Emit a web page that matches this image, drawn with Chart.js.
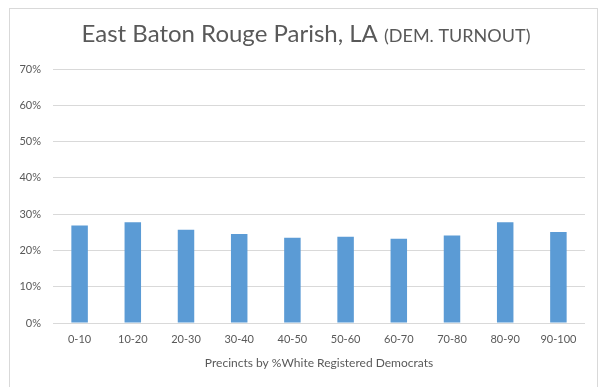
<!DOCTYPE html>
<html>
<head>
<meta charset="utf-8">
<script src="https://cdn.jsdelivr.net/npm/chart.js@4"></script>
<style>
html,body{margin:0;padding:0;background:#fff;}
#wrap{width:601px;height:387px;position:relative;}
</style>
</head>
<body>
<div id="wrap"><canvas id="c" width="601" height="387"></canvas></div>
<script>
const categories = ['0-10','10-20','20-30','30-40','40-50','50-60','60-70','70-80','80-90','90-100'];
const turnout = [0.269, 0.278, 0.257, 0.245, 0.235, 0.238, 0.232, 0.241, 0.278, 0.251];
const yTickValues = [0, 0.1, 0.2, 0.3, 0.4, 0.5, 0.6, 0.7];
const titleMain = 'East Baton Rouge Parish, LA';
const titleSub = '(DEM. TURNOUT)';
const xAxisTitle = 'Precincts by %White Registered Democrats';

const FONT = 'Lato, "Open Sans", sans-serif';
const GREY = '#595959';

const frameAndTitle = {
  id: 'frameAndTitle',
  beforeDraw(chart) {
    const ctx = chart.ctx;
    ctx.save();
    ctx.fillStyle = '#fff';
    ctx.fillRect(0, 0, chart.width, chart.height);
    ctx.strokeStyle = '#D9D9D9';
    ctx.lineWidth = 1;
    ctx.strokeRect(9.5, 8.5, 588, 420);
    ctx.restore();
  },
  afterDraw(chart) {
    const ctx = chart.ctx;
    const ca = chart.chartArea;
    ctx.save();
    ctx.fillStyle = GREY;
    ctx.textBaseline = 'alphabetic';
    ctx.font = '24px ' + FONT;
    const w1 = ctx.measureText(titleMain + ' ').width;
    ctx.font = '18px ' + FONT;
    const w2 = ctx.measureText(titleSub).width;
    const x0 = 306 - (w1 + w2) / 2;
    ctx.font = '24px ' + FONT;
    ctx.fillText(titleMain + ' ', x0, 42);
    ctx.font = '18px ' + FONT;
    ctx.fillText(titleSub, x0 + w1, 42);
    // x axis title
    ctx.font = '12px ' + FONT;
    ctx.textAlign = 'center';
    ctx.fillText(xAxisTitle, (ca.left + ca.right) / 2, 367);
    ctx.restore();
  }
};

new Chart(document.getElementById('c'), {
  type: 'bar',
  data: {
    labels: categories,
    datasets: [{
      data: turnout,
      backgroundColor: '#5B9BD5',
      borderWidth: 0,
      barPercentage: 1,
      categoryPercentage: 0.31
    }]
  },
  options: {
    responsive: false,
    animation: false,
    layout: { padding: { top: 69, right: 16, bottom: 0, left: 0 } },
    plugins: { legend: { display: false }, tooltip: { enabled: false }, title: { display: false } },
    scales: {
      y: {
        min: 0, max: 0.7,
        afterFit(s) { s.width = 53; },
        afterBuildTicks(s) { s.ticks = yTickValues.map(v => ({ value: v })); },
        border: { display: false },
        grid: { color: '#D9D9D9', drawTicks: false },
        ticks: {
          padding: 12,
          color: GREY,
          font: { family: FONT, size: 11 },
          callback: v => Math.round(v * 100) + '%'
        }
      },
      x: {
        afterFit(s) { s.height = 64; },
        border: { display: false },
        grid: { display: false, drawTicks: false },
        ticks: { padding: 10, color: GREY, font: { family: FONT, size: 11 }, maxRotation: 0 },
        title: { display: false }
      }
    }
  },
  plugins: [frameAndTitle]
});
</script>
</body>
</html>
